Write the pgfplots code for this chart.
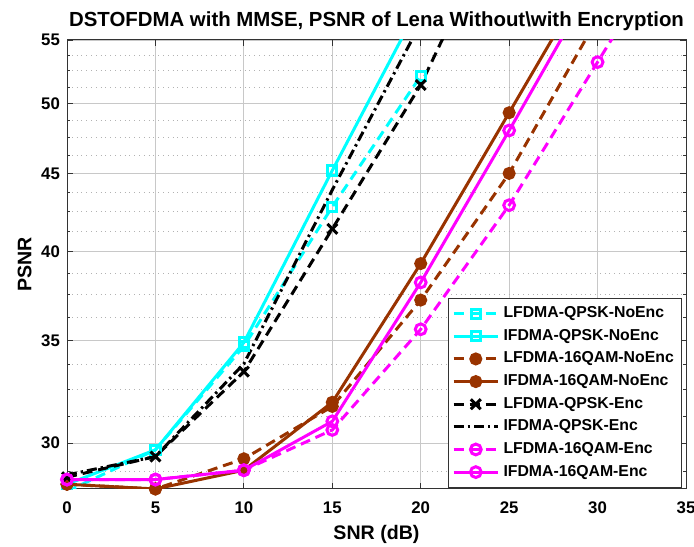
\documentclass[border=0pt]{standalone}
\usepackage{fontspec}
\setmainfont{Liberation Sans}
\usepackage{pgfplots}
\pgfplotsset{compat=1.18}
\definecolor{mbrown}{RGB}{153,51,0}
\definecolor{mcyan}{RGB}{0,255,255}
\definecolor{mmag}{RGB}{255,0,255}
\definecolor{mgrid}{RGB}{200,200,200}

\begin{document}
\begin{tikzpicture}[font=\bfseries]
\begin{axis}[
  scale only axis,
  width=309.5pt, height=224.5pt,
  xmin=0, xmax=35, ymin=28, ymax=55,
  ymode=log,
  xtick={0,5,...,35},
  ytick={30,35,40,45,50,55},
  yticklabels={30,35,40,45,50,55},
  minor ytick={28.75,31.25,32.5,33.75,36.25,37.5,38.75,41.25,42.5,43.75,
               46.25,47.5,48.75,51.25,52.5,53.75},
  grid=both,
  major grid style={mgrid, line width=0.4pt},
  minor grid style={gray!60, dotted, line width=0.4pt},
  tick align=inside, tick pos=both,
  major tick length=3pt, minor tick length=1.6pt,
  axis line style={black!80, line width=0.5pt},
  every tick/.style={black!80, line width=0.4pt},
  tick label style={font=\fontsize{8.4}{9}\selectfont\bfseries},
  xticklabel style={yshift=-3pt},
  /pgf/number format/assume math mode=true,
  xlabel={SNR (dB)}, ylabel={PSNR},
  label style={font=\fontsize{9.8}{11}\selectfont\bfseries},
  xlabel style={yshift=1pt},
  ylabel style={yshift=-2pt},
  title={DSTOFDMA with MMSE, PSNR of Lena Without\textbackslash with Encryption},
  title style={font=\fontsize{10.2}{11}\selectfont\bfseries, yshift=-5pt},
  legend style={at={(0.994,0.003)}, anchor=south east,
    font=\fontsize{7.9}{8.5}\selectfont\bfseries,
    draw=black!80, line width=0.5pt, row sep=0.3pt, inner sep=2pt},
  legend cell align=left,
  legend image code/.code={
    \draw[mark repeat=2, mark phase=2, #1]
      plot coordinates {(0cm,0cm) (0.39cm,0cm) (0.78cm,0cm)};},
  every axis plot/.append style={line width=1.5pt},
  mark options={solid},
]
\addplot[mcyan, dash pattern=on 5pt off 3pt, mark=square, mark size=2.3pt]
  coordinates {(0,27.9)(5,29.7)(10,34.7)(15,42.8)(20,52.1)};
\addlegendentry{LFDMA-QPSK-NoEnc}
\addplot[mcyan, mark=square, mark size=2.3pt]
  coordinates {(0,28.2)(5,29.7)(10,34.9)(15,45.2)(20,58.2)};
\addlegendentry{IFDMA-QPSK-NoEnc}
\addplot[mbrown, dash pattern=on 5pt off 3pt, mark=*, mark size=2.5pt]
  coordinates {(0,28.2)(5,28.0)(10,29.3)(15,31.7)(20,37.2)(25,45.0)(30,56.8)};
\addlegendentry{LFDMA-16QAM-NoEnc}
\addplot[mbrown, mark=*, mark size=2.5pt]
  coordinates {(0,28.2)(5,28.0)(10,28.8)(15,31.9)(20,39.3)(25,49.3)(30,61.9)};
\addlegendentry{IFDMA-16QAM-NoEnc}
\addplot[black, dash pattern=on 5pt off 3pt, mark=x, mark size=3.5pt]
  coordinates {(0,28.5)(5,29.4)(10,33.4)(15,41.4)(20,51.4)(25,68)};
\addlegendentry{LFDMA-QPSK-Enc}
\addplot[black, dash pattern=on 5pt off 2pt on 1.2pt off 2pt]
  coordinates {(0,28.6)(5,29.4)(10,33.8)(15,43.9)(20,56.4)};
\addlegendentry{IFDMA-QPSK-Enc}
\addplot[mmag, dash pattern=on 5pt off 3pt, mark=o, mark size=2.7pt]
  coordinates {(0,28.4)(5,28.4)(10,28.8)(15,30.6)(20,35.6)(25,42.9)(30,53.2)(35,66)};
\addlegendentry{LFDMA-16QAM-Enc}
\addplot[mmag, mark=o, mark size=2.7pt]
  coordinates {(0,28.4)(5,28.4)(10,28.8)(15,31.0)(20,38.2)(25,48.0)(30,60.6)};
\addlegendentry{IFDMA-16QAM-Enc}
\end{axis}
\pgfresetboundingbox
\path[use as bounding box] (current axis.south west) ++(-33.5pt,-28.5pt)
  rectangle ++(347pt,273pt);
\end{tikzpicture}
\end{document}
